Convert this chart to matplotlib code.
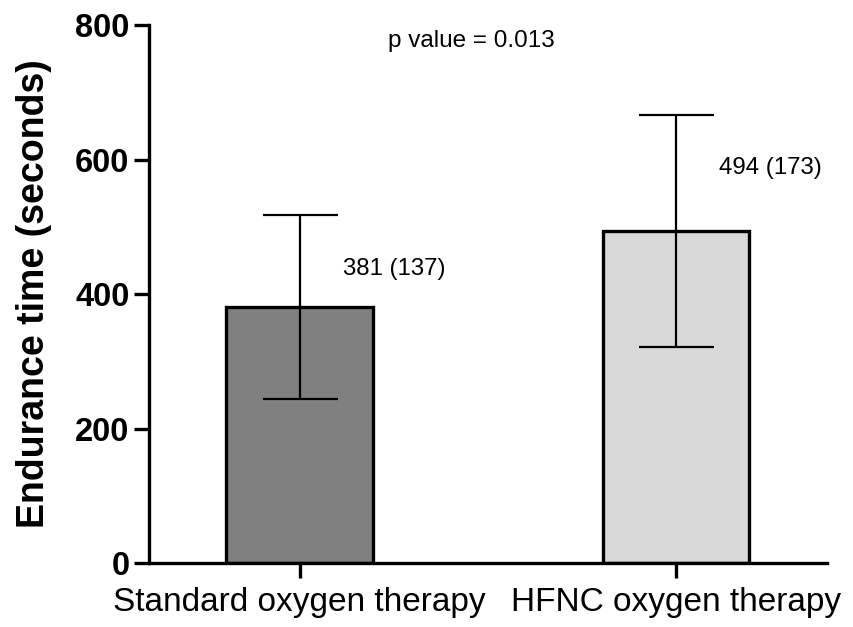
import matplotlib
matplotlib.use("Agg")
import matplotlib.pyplot as plt

groups = ["Standard oxygen therapy", "HFNC oxygen therapy"]
means = [381, 494]
sds = [137, 173]
bar_colors = ["#808080", "#d9d9d9"]
p_text = "p value = 0.013"

plt.rcParams['font.family'] = ['Liberation Sans', 'DejaVu Sans']

fig = plt.figure(figsize=(8.54, 6.27), dpi=100)
ax = fig.add_axes([0.1745, 0.102, 0.7935, 0.858])

x = list(range(len(groups)))
ax.bar(x, means, width=0.39, color=bar_colors, edgecolor="black", linewidth=2.4, zorder=2)
ax.errorbar(x, means, yerr=sds, fmt="none", ecolor="black", elinewidth=1.6,
            capsize=27, capthick=1.6, zorder=3)

# mean (SD) labels beside each bar
for xi, m, s in zip(x, means, sds):
    ax.text(xi + 0.115, m + s - 80, f"{m} ({s})", fontsize=17.3, ha="left", va="center")

ax.text(0.455, 776, p_text, fontsize=17.5, ha="center", va="center")

ax.set_xlim(-0.4, 1.4)
ax.set_ylim(0, 800)
ax.set_yticks([0, 200, 400, 600, 800])
ax.set_xticks(x)
ax.set_xticklabels(groups, fontsize=24)
for lab in ax.get_yticklabels():
    lab.set_fontsize(23.5)
    lab.set_fontweight("bold")
ax.set_ylabel("Endurance time (seconds)", fontsize=27, fontweight="bold")
ax.yaxis.set_label_coords(-0.143, 0.5)

for side in ["top", "right"]:
    ax.spines[side].set_visible(False)
for side in ["left", "bottom"]:
    ax.spines[side].set_linewidth(2.4)
ax.tick_params(axis="y", length=11, width=2.4, pad=3)
ax.tick_params(axis="x", length=11, width=2.4, pad=6)

fig.savefig("out.png", dpi=100)
